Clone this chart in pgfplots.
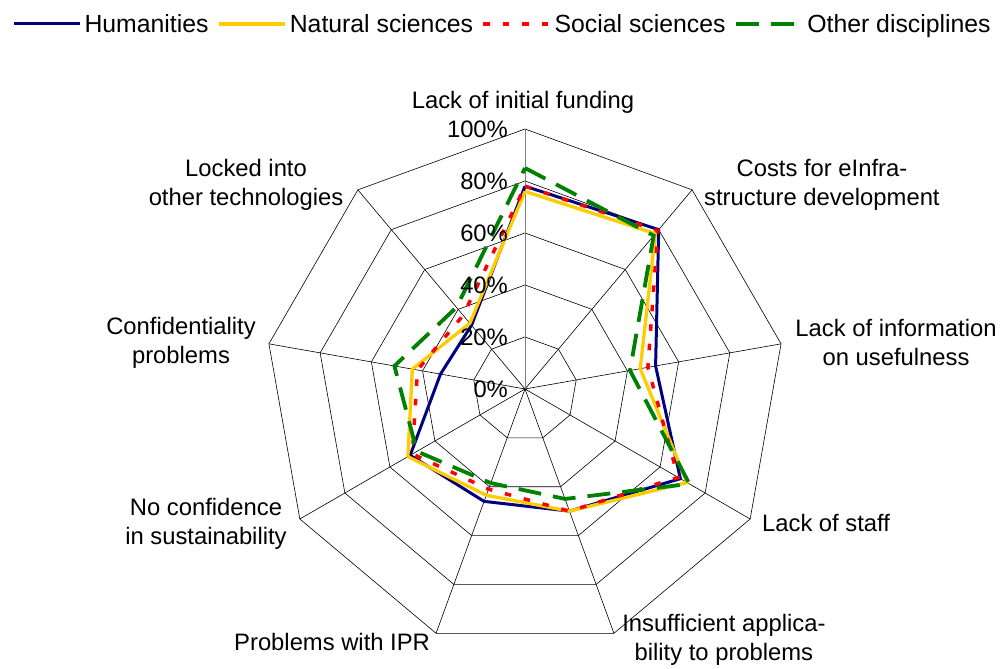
\documentclass[border=0pt]{standalone}
\usepackage{pgfplots}
\pgfplotsset{compat=1.18}
\usepackage{fontspec}
\setmainfont{Liberation Sans}
\definecolor{hum}{RGB}{0,0,128}
\definecolor{nat}{RGB}{255,204,0}
\definecolor{soc}{RGB}{255,0,0}
\definecolor{oth}{RGB}{0,128,0}
\definecolor{gridgray}{RGB}{128,128,128}
\begin{document}
\begin{tikzpicture}
\begin{axis}[
  scale only axis, width=1001bp, height=669bp,
  xmin=-201.92, xmax=183.08, ymin=-107.69, ymax=149.62,
  axis lines=none, clip=false,
  font=\fontsize{23.8bp}{29bp}\selectfont,
  legend columns=4,
  legend style={at={(axis cs:-197.3,140.4)}, anchor=west, draw=none, fill=none,
    inner sep=0pt, outer sep=0pt, font=\fontsize{24.8bp}{29bp}\selectfont,
    /tikz/every even column/.append style={column sep=6.5bp}},
  legend image code/.code={\draw[#1] (0bp,0bp) -- (66bp,0bp); \path (67.5bp,0bp);},
]
% rings
\addplot[black, line width=0.6bp, forget plot, data cs=polar] coordinates {(90,20) (50,20) (10,20) (-30,20) (-70,20) (-110,20) (-150,20) (-190,20) (130,20) (90,20)};
\addplot[black, line width=0.6bp, forget plot, data cs=polar] coordinates {(90,40) (50,40) (10,40) (-30,40) (-70,40) (-110,40) (-150,40) (-190,40) (130,40) (90,40)};
\addplot[black, line width=0.6bp, forget plot, data cs=polar] coordinates {(90,60) (50,60) (10,60) (-30,60) (-70,60) (-110,60) (-150,60) (-190,60) (130,60) (90,60)};
\addplot[black, line width=0.6bp, forget plot, data cs=polar] coordinates {(90,80) (50,80) (10,80) (-30,80) (-70,80) (-110,80) (-150,80) (-190,80) (130,80) (90,80)};
\addplot[black, line width=0.6bp, forget plot, data cs=polar] coordinates {(90,100) (50,100) (10,100) (-30,100) (-70,100) (-110,100) (-150,100) (-190,100) (130,100) (90,100)};
% spokes
\addplot[black, line width=0.6bp, line join=round, forget plot, data cs=polar] coordinates {(50,100) (0,0) (10,100) (0,0) (-30,100) (0,0) (-70,100) (0,0) (-110,100) (0,0) (-150,100) (0,0) (-190,100) (0,0) (130,100) (0,0)};
\addplot[gridgray, line width=1bp, forget plot, data cs=polar] coordinates {(90,0) (90,100)};
% data
\addplot[hum, line width=3bp, line join=round, data cs=polar] coordinates {(90,78) (50,80) (10,51) (-30,69) (-70,50) (-110,46) (-150,51) (-190,33) (130,32) (90,78)};
\addlegendentry{Humanities}
\addplot[nat, line width=3.3bp, line join=round, data cs=polar] coordinates {(90,76) (50,78) (10,45) (-30,72) (-70,50) (-110,43.5) (-150,52) (-190,44) (130,33) (90,76)};
\addlegendentry{Natural sciences}
\addplot[soc, line width=3.5bp, dash pattern=on 6.5bp off 13bp, data cs=polar] coordinates {(90,78) (50,79.5) (10,48) (-30,68) (-70,50) (-110,41) (-150,50) (-190,42) (130,37) (90,78)};
\addlegendentry{Social sciences}
\addplot[oth, line width=3.8bp, dash pattern=on 23bp off 12bp, data cs=polar] coordinates {(90,85) (50,77) (10,41) (-30,73) (-70,45) (-110,38.5) (-150,48) (-190,51) (130,41) (90,85)};
\addlegendentry{Other disciplines}
% tick labels
\node[anchor=east, inner sep=0pt] at (axis cs:-6.5,100) {100\%};
\node[anchor=east, inner sep=0pt] at (axis cs:-6.5,80) {80\%};
\node[anchor=east, inner sep=0pt] at (axis cs:-6.5,60) {60\%};
\node[anchor=east, inner sep=0pt] at (axis cs:-6.5,40) {40\%};
\node[anchor=east, inner sep=0pt] at (axis cs:-6.5,20) {20\%};
\node[anchor=east, inner sep=0pt] at (axis cs:-6.5,0) {0\%};
% category labels
\node[align=center, inner sep=0pt] at (axis cs:-0.8,110.4) {Lack of initial funding};
\node[align=center, inner sep=0pt] at (axis cs:114.2,78.5) {Costs for eInfra-\\structure development};
\node[align=center, inner sep=0pt] at (axis cs:142.7,17.7) {Lack of information\\on usefulness};
\node[align=center, inner sep=0pt] at (axis cs:115.8,-51.5) {Lack of staff};
\node[align=center, inner sep=0pt] at (axis cs:76.5,-96.5) {Insufficient applica-\\bility to problems};
\node[align=center, inner sep=0pt] at (axis cs:-74.2,-97.3) {Problems with IPR};
\node[align=center, inner sep=0pt] at (axis cs:-122.7,-51.9) {No confidence\\in sustainability};
\node[align=center, inner sep=0pt] at (axis cs:-132.3,17.7) {Confidentiality\\problems};
\node[align=center, inner sep=0pt] at (axis cs:-107.3,78.5) {Locked into\\other technologies};
\end{axis}
\pgfresetboundingbox
\path[use as bounding box] (current axis.south west) rectangle (current axis.north east);
\end{tikzpicture}
\end{document}
